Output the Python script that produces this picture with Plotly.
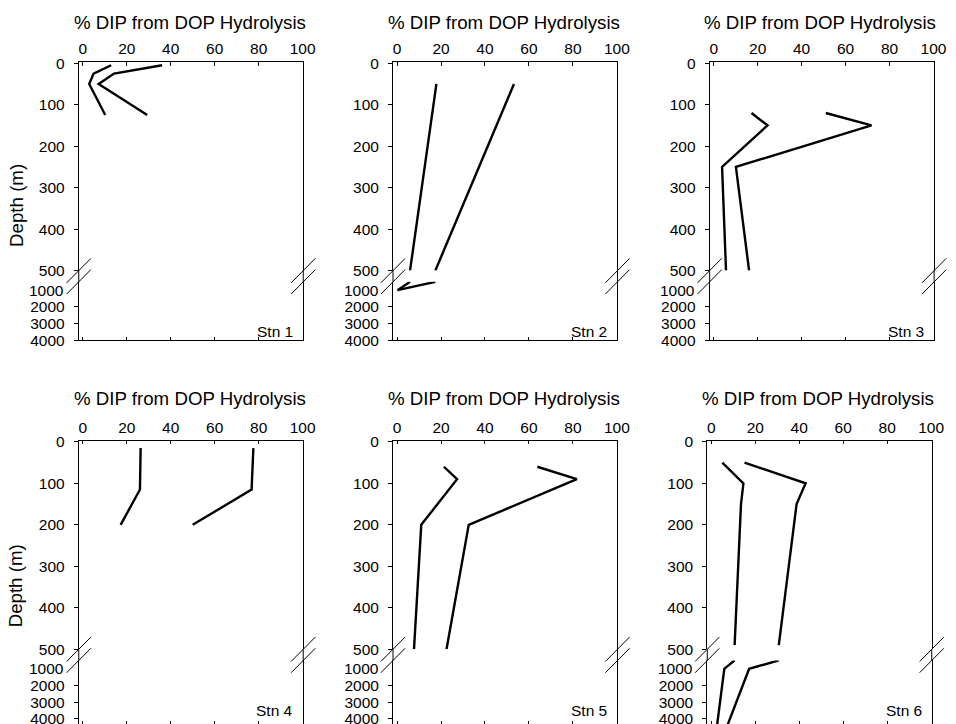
import plotly.graph_objects as go

# ---------------- data ----------------
stations = ["Stn 1", "Stn 2", "Stn 3", "Stn 4", "Stn 5", "Stn 6"]

depth_stn1 = [5, 25, 50, 125]
low_stn1 = [12.9, 4.9, 2.9, 10.2]
high_stn1 = [36.1, 14.2, 7.2, 29.3]

depth_stn2 = [50, 500, 1000]
low_stn2 = [17.9, 5.9, 0.2]
high_stn2 = [53.2, 17.4, 0.2]

depth_stn3 = [120, 150, 250, 500]
low_stn3 = [17.2, 24.5, 3.8, 5.6]
high_stn3 = [51.0, 71.8, 10.1, 16.1]

depth_stn4 = [15, 115, 200]
low_stn4 = [26.3, 26.0, 17.2]
high_stn4 = [77.6, 76.8, 50.0]

depth_stn5 = [60, 90, 200, 500]
low_stn5 = [21.3, 27.3, 11.0, 7.7]
high_stn5 = [63.8, 81.8, 32.6, 22.5]

depth_stn6 = [50, 100, 150, 490, 1000, 4500]
low_stn6 = [5.0, 14.6, 13.5, 10.6, 5.9, 2.5]
high_stn6 = [15.1, 42.9, 38.8, 30.7, 17.2, 7.0]

x_ticks = [0, 20, 40, 60, 80, 100]
upper_depth_ticks = [0, 100, 200, 300, 400, 500]
lower_depth_ticks = [2000, 3000, 4000]
lower_first_label = 1000
x_title = "% DIP from DOP Hydrolysis"
y_title = "Depth (m)"

depths = [depth_stn1, depth_stn2, depth_stn3, depth_stn4, depth_stn5, depth_stn6]
lows = [low_stn1, low_stn2, low_stn3, low_stn4, low_stn5, low_stn6]
highs = [high_stn1, high_stn2, high_stn3, high_stn4, high_stn5, high_stn6]

# ---------------- layout geometry ----------------
W, H = 956, 733
FONT = "Liberation Sans, Arial, Helvetica, sans-serif"
# screen -> layout pixel calibration
SX, OX = 0.9944, 2.3
SY, OY = 0.977, 8.2


def lx(x):  # target screen x -> layout px
    return (x - OX) / SX


def ly(y):  # target screen y -> layout px
    return (y - OY) / SY


def px(x):
    return lx(x) / W


def py(y):
    return 1 - ly(y) / H


PANEL_W = 226.3
panel_left = [81.7, 398.5, 717.7, 81.7, 398.5, 715.3]
rows = [
    dict(top=62.3, ub=270.5, lt=281.7, bot=340.0, lower_max=4000, title_y=23.0, ytitle=205),
    dict(top=440.5, ub=648.7, lt=659.9, bot=724.0, lower_max=4348, title_y=398.3, ytitle=585),
]
X_RANGE = [-1.85, 100.3]
UPPER_RANGE = [500, -2.5]
BREAK = 12.2
TICK_FONT = dict(family=FONT, size=15.5, color="black")
TITLE_FONT = dict(family=FONT, size=18.7, color="black")


def sfx(n):
    return "" if n == 1 else str(n)


fig = go.Figure()
layout = dict(
    width=W, height=H, autosize=False,
    margin=dict(l=0, r=0, t=0, b=0, pad=0),
    paper_bgcolor="white", plot_bgcolor="white",
    showlegend=False,
    font=dict(family=FONT, size=15, color="black"),
)
shapes = []
annotations = []

common_axis = dict(showline=True, linecolor="black", linewidth=1, showgrid=False,
                   zeroline=False, tickcolor="black", tickwidth=1, fixedrange=True,
                   tickfont=TICK_FONT)

for i, stn in enumerate(stations):
    R = rows[0 if i < 3 else 1]
    left = panel_left[i]
    right = left + PANEL_W
    nu, nl = 2 * i + 1, 2 * i + 2
    xu, xl = "x" + sfx(nu), "x" + sfx(nl)
    yu, yl = "y" + sfx(nu), "y" + sfx(nl)

    layout["xaxis" + sfx(nu)] = dict(
        common_axis, domain=[px(left), px(right)], anchor=yu, side="top",
        range=X_RANGE, tickmode="array", tickvals=x_ticks,
        ticks="inside", ticklen=3.5, ticklabelstandoff=1)
    layout["xaxis" + sfx(nl)] = dict(
        common_axis, domain=[px(left), px(right)], anchor=yl, side="bottom",
        range=X_RANGE, tickmode="array", tickvals=x_ticks,
        ticks="inside", ticklen=3.5, showticklabels=False)
    layout["yaxis" + sfx(nu)] = dict(
        common_axis, domain=[py(R["ub"]), py(R["top"])], anchor=xu,
        range=UPPER_RANGE, tickmode="array", tickvals=upper_depth_ticks,
        ticks="outside", ticklen=4, mirror=True, ticklabelstandoff=6)
    layout["yaxis" + sfx(nl)] = dict(
        common_axis, domain=[max(0.0, py(R["bot"])), py(R["lt"])], anchor=xl,
        range=[R["lower_max"], 500], tickmode="array", tickvals=lower_depth_ticks,
        ticks="outside", ticklen=4, mirror=True, ticklabelstandoff=6)

    d, lo, hi = depths[i], lows[i], highs[i]
    up_idx = [k for k, v in enumerate(d) if v <= 500]
    low_idx = list(range(up_idx[-1], len(d)))
    for series in (lo, hi):
        fig.add_trace(go.Scatter(
            x=[series[k] for k in up_idx], y=[d[k] for k in up_idx],
            xaxis=xu, yaxis=yu, mode="lines",
            line=dict(color="black", width=2.4), hoverinfo="skip"))
        if max(d) > 500:
            fig.add_trace(go.Scatter(
                x=[series[k] for k in low_idx], y=[d[k] for k in low_idx],
                xaxis=xl, yaxis=yl, mode="lines",
                line=dict(color="black", width=2.4), hoverinfo="skip"))

    # continuous frame through the axis break, plus the "//" break marks
    for xe in (left, right):
        shapes.append(dict(type="line", xref="paper", yref="paper",
                           x0=px(xe), x1=px(xe), y0=py(R["ub"]), y1=py(R["lt"]),
                           line=dict(color="black", width=1)))
        for yc in (R["ub"], R["lt"]):
            shapes.append(dict(type="line", xref="paper", yref="paper",
                               x0=px(xe - BREAK), y0=py(yc + BREAK),
                               x1=px(xe + BREAK), y1=py(yc - BREAK),
                               line=dict(color="black", width=1)))

    annotations.append(dict(text=str(lower_first_label), xref=xl + " domain", x=0,
                            xshift=-12.5, xanchor="right", yref=yl, y=lower_first_label,
                            yanchor="middle", showarrow=False, font=TICK_FONT))
    annotations.append(dict(text=x_title, xref="paper", x=px((left + right) / 2 - 1.5),
                            xanchor="center", yref="paper", y=py(R["title_y"]),
                            yanchor="middle", showarrow=False, font=TITLE_FONT))
    annotations.append(dict(text=stn, xref=xl + " domain", x=1, xshift=-8,
                            xanchor="right", yref=yl, y=3500, yanchor="middle",
                            showarrow=False, font=TICK_FONT))

for R in rows:
    annotations.append(dict(text=y_title, xref="paper", x=px(18.3), xanchor="center",
                            yref="paper", y=py(R["ytitle"]), yanchor="middle",
                            textangle=-90, showarrow=False, font=TITLE_FONT))

layout["shapes"] = shapes
layout["annotations"] = annotations
fig.update_layout(**layout)
fig.write_html("out.html")
